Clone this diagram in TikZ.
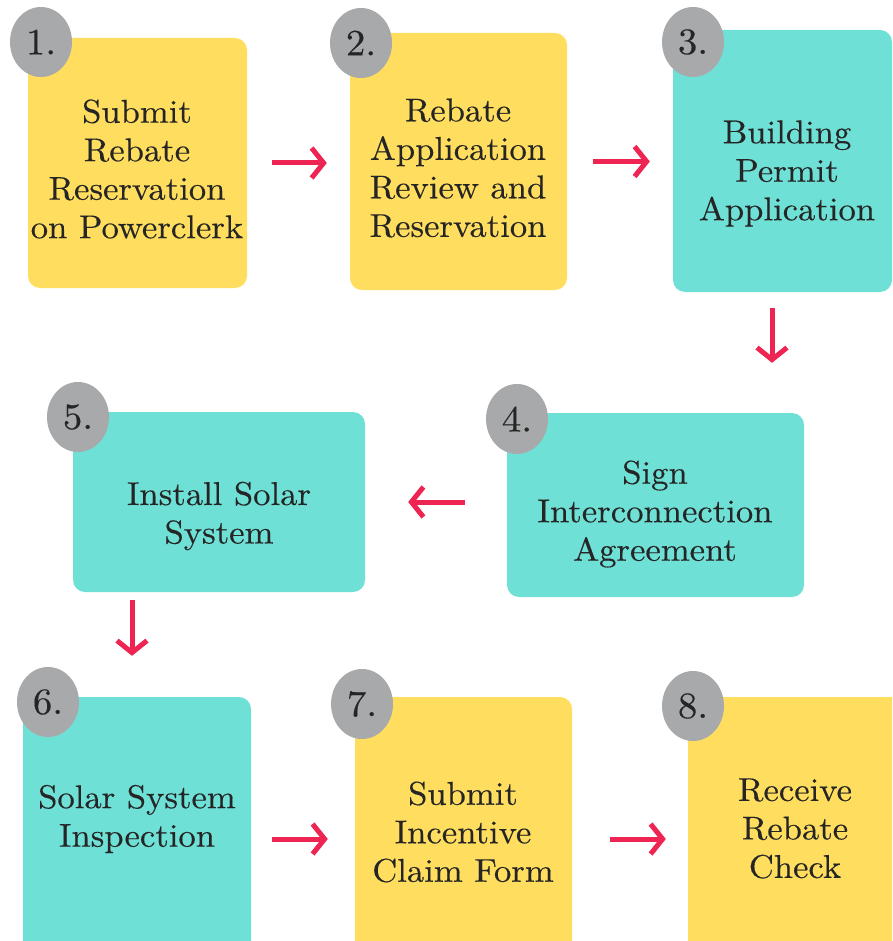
\documentclass[tikz,border=0pt]{standalone}
\usepackage{fontspec}
\usepackage{tikz}
\usetikzlibrary{shapes.geometric,arrows.meta}
\newfontfamily\cardfont{lmroman10-regular}[Extension=.otf, FakeStretch=1.05, FakeBold=0.3]
\definecolor{sunny}{HTML}{FFDD5E}
\definecolor{aqua}{HTML}{6FE0D6}
\definecolor{badge}{HTML}{A8A9AB}
\definecolor{flowred}{HTML}{EE2452}
\definecolor{ink}{HTML}{252525}

\begin{document}
\begin{tikzpicture}[x=1pt,y=1pt,
  card/.style={rectangle, rounded corners=12pt, inner sep=0pt},
  yellowcard/.style={card, fill=sunny},
  tealcard/.style={card, fill=aqua},
  num/.style={ellipse, fill=badge, inner sep=0pt, minimum width=62pt, minimum height=70pt, text=ink, font=\cardfont\fontsize{37}{40}\selectfont},
  cardtext/.style={align=center, inner sep=0pt, text=ink, font=\cardfont\fontsize{33}{38.5}\selectfont},
  flow/.style={draw=flowred, line width=5pt, -{Straight Barb[length=12pt,width=30pt]}}]
\useasboundingbox (0,0) rectangle (892,-941);
\clip (0,0) rectangle (892,-941);
% cards
\node[yellowcard, minimum width=219pt, minimum height=250pt] (b1) at (137.5,-163) {};
\node[yellowcard, minimum width=217pt, minimum height=257pt] (b2) at (458.5,-161.5) {};
\node[tealcard, minimum width=219pt, minimum height=262pt] (b3) at (782.5,-161) {};
\node[tealcard, minimum width=297pt, minimum height=184pt] (b4) at (655.5,-505) {};
\node[tealcard, minimum width=292pt, minimum height=180pt] (b5) at (219,-502) {};
\node[tealcard, minimum width=228pt, minimum height=284pt] (b6) at (137,-839) {};
\node[yellowcard, minimum width=217pt, minimum height=284pt] (b7) at (463.5,-839) {};
\node[yellowcard, minimum width=230pt, minimum height=284pt] (b8) at (803,-839) {};
% numbers
\node[num] (c1) at (41,-42) {1.};
\node[num] (c2) at (361,-43) {2.};
\node[num] (c3) at (693,-42) {3.};
\node[num] (c4) at (517,-419) {4.};
\node[num] (c5) at (78,-417) {5.};
\node[num] (c6) at (48,-702) {6.};
\node[num] (c7) at (362,-704) {7.};
\node[num] (c8) at (693,-706) {8.};
% texts
\node[cardtext] (t1) at (137,-169) {Submit\\Rebate\\Reservation\\on Powerclerk};
\node[cardtext] (t2) at (458,-168) {Rebate\\Application\\Review and\\Reservation};
\node[cardtext] (t3) at (787,-173.5) {Building\\Permit\\Application};
\node[cardtext] (t4) at (655,-514) {Sign\\Interconnection\\Agreement};
\node[cardtext] (t5) at (219,-516) {Install Solar\\System};
\node[cardtext] (t6) at (137,-819) {Solar System\\Inspection};
\node[cardtext] (t7) at (463,-832) {Submit\\Incentive\\Claim Form};
\node[cardtext] (t8) at (795,-828.5) {Receive\\Rebate\\Check};
% arrows
\draw[flow, shorten <=25pt, shorten >=23pt] (b1.east) -- (b1.east -| b2.west);
\draw[flow, shorten <=26pt, shorten >=23pt] (b2.east) -- (b2.east -| b3.west);
\draw[flow, shorten <=16pt, shorten >=50pt] ([xshift=-10.5pt]b3.south) -- ([xshift=-10.5pt]b3.south |- b4.north);
\draw[flow, shorten <=42pt, shorten >=43pt] (b4.west |- b5.east) -- (b5.east);
\draw[flow, shorten <=8pt, shorten >=41pt] ([xshift=-5pt]b6.north |- b5.south) -- ([xshift=-5pt]b6.north);
\draw[flow, shorten <=21pt, shorten >=27pt] (b6.east) -- (b6.east -| b7.west);
\draw[flow, shorten <=38pt, shorten >=22pt] (b7.east) -- (b7.east -| b8.west);
\end{tikzpicture}
\end{document}
